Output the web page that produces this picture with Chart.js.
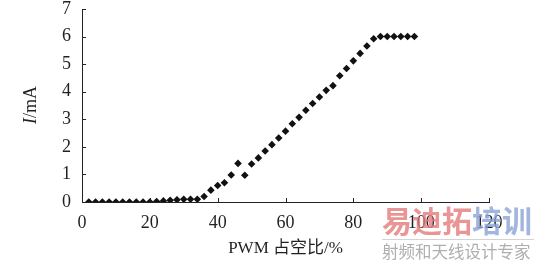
<!DOCTYPE html>
<html>
<head>
<meta charset="utf-8">
<script src="https://cdn.jsdelivr.net/npm/chart.js@4.4.1/dist/chart.umd.min.js"></script>
<style>
  html, body { margin: 0; padding: 0; background: #fff; }
  #wrap { width: 536px; height: 261px; }
</style>
</head>
<body>
<div id="wrap"><canvas id="pwmChart"></canvas></div>
<script>
// PWM duty cycle (%) and measured current (mA)
const dutyCycle = [2, 4, 6, 8, 10, 12, 14, 16, 18, 20, 22, 24, 26, 28, 30, 32, 34, 36, 38, 40,
  42, 44, 46, 48, 50, 52, 54, 56, 58, 60, 62, 64, 66, 68, 70, 72, 74, 76, 78, 80,
  82, 84, 86, 88, 90, 92, 94, 96, 98]
const current = [0, 0, 0, 0, 0, 0, 0, 0, 0, 0, 0.02, 0.04, 0.06, 0.08, 0.1, 0.1, 0.1, 0.2, 0.43, 0.6,
  0.7, 0.98, 1.4, 0.97, 1.38, 1.6, 1.85, 2.08, 2.32, 2.57, 2.84, 3.07, 3.33, 3.57, 3.81, 4.05, 4.22, 4.58, 4.84, 5.12,
  5.39, 5.66, 5.92, 6, 6, 6, 6, 6, 6]
const xTicks = [0, 20, 40, 60, 80, 100, 120]
const yTicks = [0, 1, 2, 3, 4, 5, 6, 7]

const serif = '"Liberation Serif", "Noto Sans CJK SC", serif'
const textColor = '#231f20'

// Tick marks pointing into the plot, like the printed figure
const innerTicks = {
  id: 'innerTicks',
  afterDraw(chart) {
    const { ctx, scales: { x, y } } = chart
    ctx.save()
    ctx.strokeStyle = '#222'
    ctx.lineWidth = 1
    ctx.beginPath()
    xTicks.forEach(v => {
      const px = Math.round(x.getPixelForValue(v)) + 0.5
      ctx.moveTo(px, y.bottom)
      ctx.lineTo(px, y.bottom - 4)
    })
    yTicks.forEach(v => {
      const py = Math.round(y.getPixelForValue(v)) + 0.5
      ctx.moveTo(x.left, py)
      ctx.lineTo(x.left + 4, py)
    })
    ctx.stroke()
    ctx.restore()
  }
}

// Y title with an italic "I"
const yTitle = {
  id: 'yTitle',
  afterDraw(chart) {
    const ctx = chart.ctx
    ctx.save()
    ctx.translate(31, 105)
    ctx.rotate(-Math.PI / 2)
    ctx.fillStyle = textColor
    ctx.textBaseline = 'middle'
    ctx.font = 'italic 18px ' + serif
    const w1 = ctx.measureText('I').width
    ctx.font = '18px ' + serif
    const w2 = ctx.measureText('/mA').width
    let start = -(w1 + w2) / 2
    ctx.textAlign = 'left'
    ctx.font = 'italic 18px ' + serif
    ctx.fillText('I', start, 0)
    ctx.font = '18px ' + serif
    ctx.fillText('/mA', start + w1, 0)
    ctx.restore()
  }
}

// Watermark in the lower right corner of the source image
const watermark = {
  id: 'watermark',
  afterDraw(chart) {
    const ctx = chart.ctx
    ctx.save()
    ctx.globalAlpha = 0.8
    ctx.textBaseline = 'alphabetic'
    ctx.textAlign = 'left'
    ctx.font = 'bold 30px "Noto Sans CJK SC"'
    ctx.fillStyle = '#e37b7b'
    ctx.fillText('易迪拓', 382, 232)
    const w = ctx.measureText('易迪拓').width
    ctx.fillStyle = '#8aa3d6'
    ctx.fillText('培训', 382 + w, 232)
    ctx.fillStyle = '#c8c8c8'
    ctx.fillRect(382, 239, 152, 1)
    ctx.font = '16.5px "Noto Sans CJK SC"'
    ctx.fillStyle = '#9a9a9a'
    ctx.fillText('射频和天线设计专家', 382, 258)
    ctx.restore()
  }
}

new Chart(document.querySelector('#pwmChart'), {
  type: 'scatter',
  data: {
    datasets: [{
      label: 'I',
      data: dutyCycle.map((d, i) => ({ x: d, y: current[i] })),
      pointStyle: 'rectRot',
      pointRadius: 3.8,
      pointBackgroundColor: '#111',
      pointBorderColor: '#111',
      pointBorderWidth: 0,
      showLine: false
    }]
  },
  options: {
    responsive: true,
    maintainAspectRatio: false,
    animation: false,
    layout: { padding: { left: 0, right: 47, top: 0, bottom: 0 } },
    plugins: { legend: { display: false }, tooltip: { enabled: false } },
    scales: {
      x: {
        type: 'linear',
        min: 0,
        max: 120,
        afterFit: s => { s.height = 59; s.paddingLeft = 0; s.paddingRight = 0 },
        afterBuildTicks: s => { s.ticks = xTicks.map(v => ({ value: v })) },
        grid: { display: false, drawTicks: false },
        border: { display: true, color: '#222', width: 1 },
        ticks: { color: textColor, font: { family: serif, size: 18 }, padding: 10, maxRotation: 0 },
        title: {
          display: true,
          text: 'PWM 占空比/%',
          color: textColor,
          font: { family: serif, size: 17 },
          padding: { top: 0, bottom: 2 }
        }
      },
      y: {
        min: 0,
        max: 7,
        afterFit: s => { s.width = 82; s.paddingTop = 9; s.paddingBottom = 0 },
        afterBuildTicks: s => { s.ticks = yTicks.map(v => ({ value: v })) },
        grid: { display: false, drawTicks: false },
        border: { display: true, color: '#222', width: 1 },
        ticks: { color: textColor, font: { family: serif, size: 18 }, padding: 11 }
      }
    }
  },
  plugins: [innerTicks, yTitle, watermark]
})
</script>
</body>
</html>
